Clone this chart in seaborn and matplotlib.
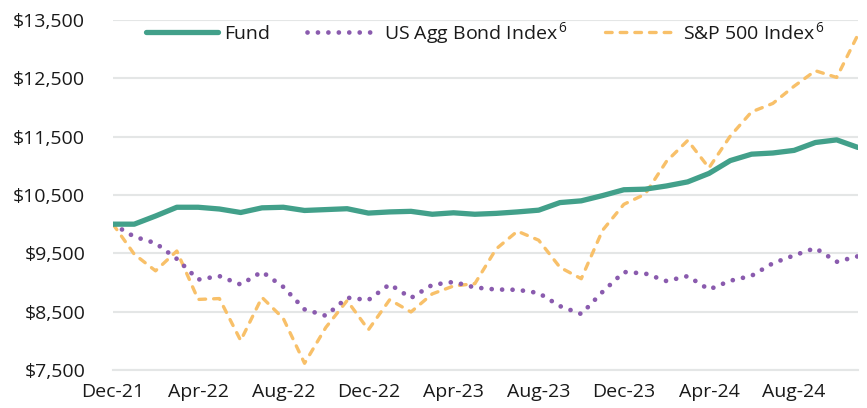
import numpy as np
import pandas as pd
import matplotlib
matplotlib.use("Agg")
import matplotlib.pyplot as plt
import seaborn as sns

# monthly growth of $10,000, Dec-21 .. Nov-24
months = pd.date_range("2021-12-01", "2024-11-01", freq="MS")
fund = [10000, 10000, 10140, 10290, 10290, 10260, 10200, 10280, 10290, 10235,
        10250, 10265, 10190, 10210, 10220, 10170, 10195, 10170, 10185, 10210,
        10240, 10370, 10400, 10490, 10590, 10600, 10655, 10725, 10870, 11090,
        11200, 11220, 11265, 11400, 11445, 11315]
agg = [10000, 9785, 9675, 9405, 9050, 9110, 8965, 9185, 8925, 8540,
       8430, 8740, 8700, 8970, 8735, 8960, 9010, 8915, 8880, 8875,
       8820, 8595, 8460, 8840, 9180, 9155, 9025, 9110, 8880, 9030,
       9115, 9330, 9465, 9590, 9355, 9450]
sp500 = [10000, 9485, 9200, 9540, 8710, 8725, 8005, 8745, 8385, 7615,
         8230, 8690, 8190, 8705, 8495, 8805, 8940, 8980, 9575, 9880,
         9725, 9260, 9065, 9895, 10340, 10515, 11075, 11435, 10965, 11510,
         11925, 12070, 12365, 12630, 12515, 13250]

y_ticks = [7500, 8500, 9500, 10500, 11500, 12500, 13500]
x_tick_idx = [0, 4, 8, 12, 16, 20, 24, 28, 32]

df = pd.DataFrame({"i": np.arange(len(months)), "fund": fund, "agg": agg, "sp": sp500})

sns.set_style("white")
plt.rcParams["font.family"] = ["Open Sans", "DejaVu Sans"]
plt.rcParams["mathtext.fontset"] = "custom"
plt.rcParams["mathtext.rm"] = "Open Sans"
plt.rcParams["mathtext.it"] = "Open Sans"

fig = plt.figure(figsize=(8.67, 4.08), dpi=100)
ax = fig.add_axes([0.1303, 0.0931, 0.8593, 0.8579])

grid_c = "#E4E6E6"
for v in y_ticks:
    ax.axhline(v, color=grid_c, lw=1.5, zorder=0)

sns.lineplot(data=df, x="i", y="fund", ax=ax, color="#42A08A", lw=3.8,
             solid_capstyle="round", label="Fund", zorder=3)
sns.lineplot(data=df, x="i", y="agg", ax=ax, color="#8A5BAE", lw=3.4,
             label="US Agg Bond Index$^{\\,6}$", zorder=2)
sns.lineplot(data=df, x="i", y="sp", ax=ax, color="#F8C069", lw=2.4,
             label="S&P 500 Index$^{\\,6}$", zorder=1)

lines = ax.get_lines()
lines[-2].set_linestyle((0, (0.01, 2.2)))
lines[-2].set_dash_capstyle("round")
lines[-1].set_linestyle((0, (2.0, 2.4)))
lines[-1].set_dash_capstyle("round")

ax.set_xlim(0, len(months) - 1)
ax.set_ylim(7500, 13500)
ax.set_yticks(y_ticks)
ax.set_yticklabels([f"${v:,}" for v in y_ticks])
ax.set_xticks(x_tick_idx)
ax.set_xticklabels([months[k].strftime("%b-%y") for k in x_tick_idx])
ax.set_xlabel("")
ax.set_ylabel("")

for s in ["top", "right", "left"]:
    ax.spines[s].set_visible(False)
ax.spines["bottom"].set_color(grid_c)
ax.spines["bottom"].set_linewidth(1.5)
ax.tick_params(axis="x", length=5, width=1.5, color=grid_c, labelsize=14,
               labelcolor="#1a1a1a", pad=4)
ax.tick_params(axis="y", length=0, labelsize=14, labelcolor="#1a1a1a", pad=20)

leg = ax.legend(loc="upper center", bbox_to_anchor=(0.5, 1.05), ncol=3,
                frameon=False, fontsize=14, handlelength=3.7,
                handletextpad=0.3, columnspacing=1.9)
for t in leg.get_texts():
    t.set_color("#1a1a1a")

fig.savefig("out.png", dpi=100)
